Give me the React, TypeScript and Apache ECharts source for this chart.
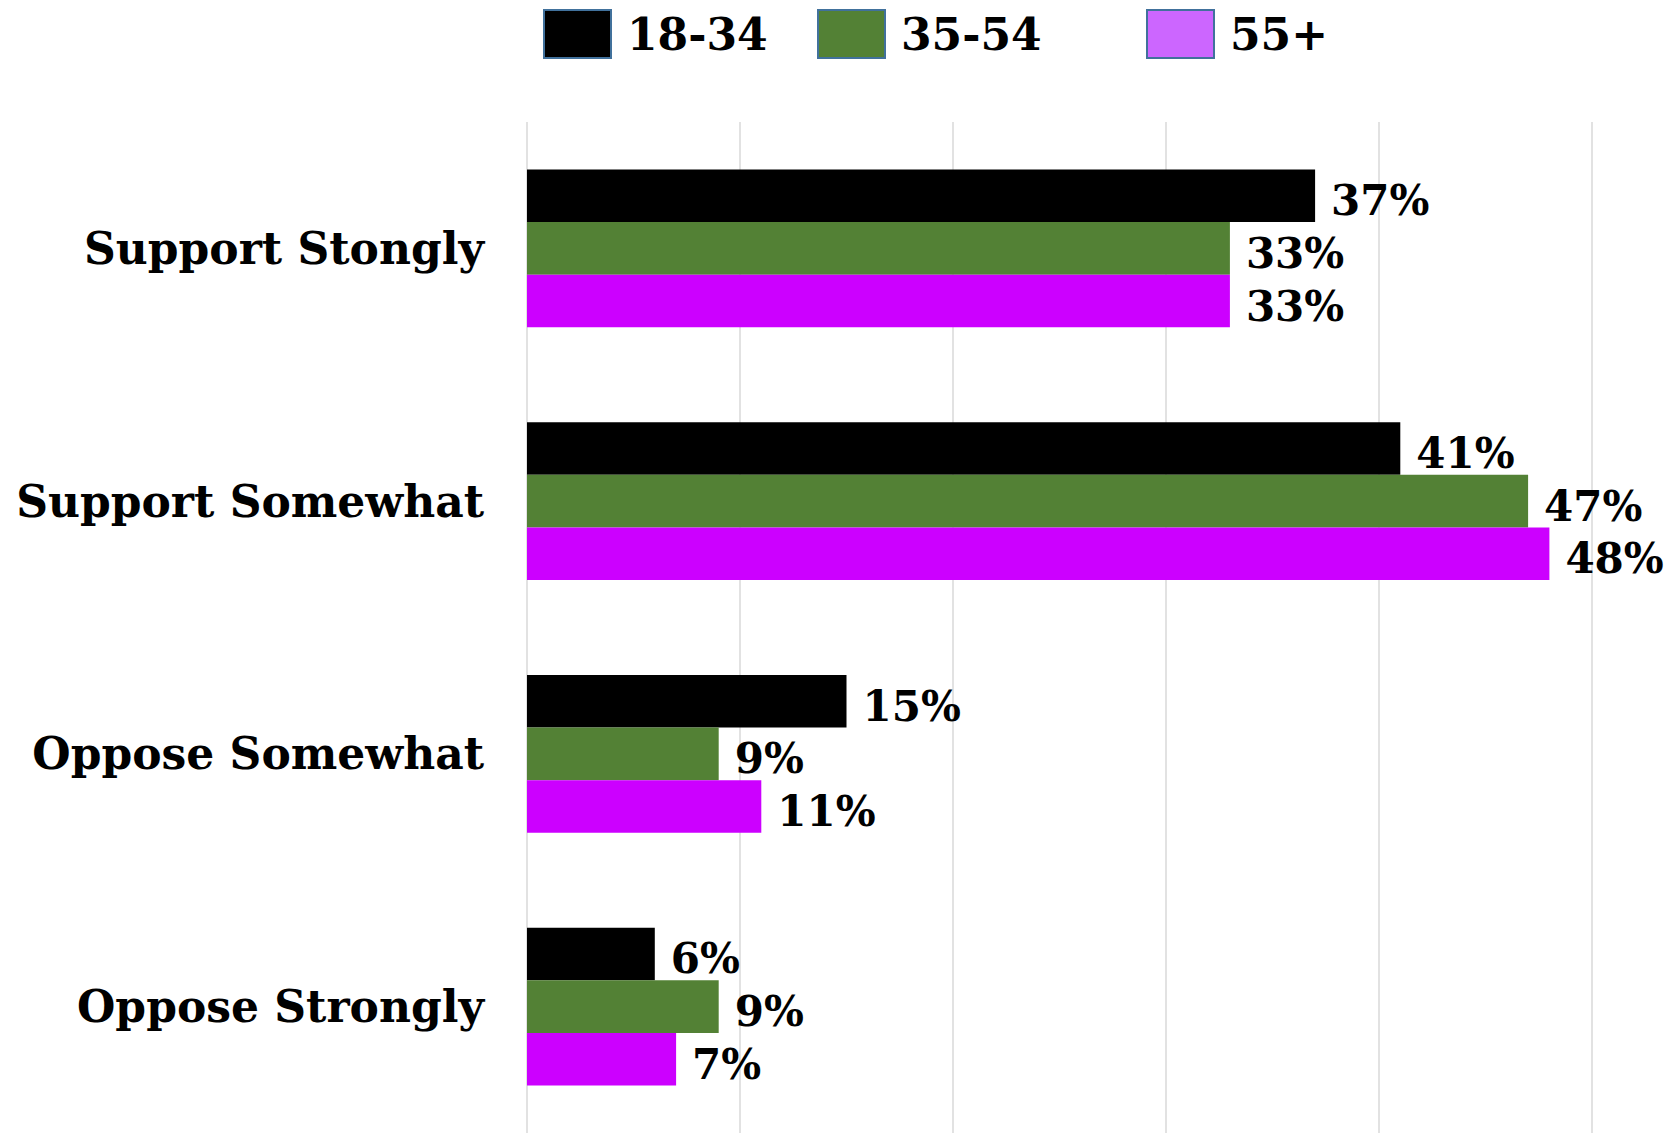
import React, { useEffect, useRef } from "react";
import * as echarts from "echarts";

const categories = ["Support Stongly", "Support Somewhat", "Oppose Somewhat", "Oppose Strongly"];
const seriesNames = ["18-34", "35-54", "55+"];
const values1834 = [37, 41, 15, 6];
const values3554 = [33, 47, 9, 9];
const values55 = [33, 48, 11, 7];
const barColors = ["#000000", "#538135", "#cc00ff"];
const legendColors = ["#000000", "#538135", "#cc66ff"];
const legendLefts = [535, 809, 1138];

const FONT = "'DejaVu Serif', Georgia, serif";

export default function App() {
  const ref = useRef<HTMLDivElement>(null);
  useEffect(() => {
    if (!ref.current) return;
    const chart = echarts.init(ref.current, null, { renderer: "svg" });
    const allValues = [values1834, values3554, values55];
    chart.setOption({
      animation: false,
      backgroundColor: "#ffffff",
      legend: seriesNames.map((n, i) => ({
        data: [{ name: n, itemStyle: { color: legendColors[i], borderColor: "#41719c", borderWidth: 2 } }],
        left: legendLefts[i],
        top: 1,
        padding: 0,
        icon: "rect",
        itemWidth: 67,
        itemHeight: 48,
        itemGap: 16,
        textStyle: {
          fontFamily: FONT,
          fontWeight: "bold",
          fontSize: 44,
          color: "#000",
          padding: [0, 0, 0, 11],
        },
      })),
      grid: { left: 519, width: 1065, top: 114, height: 1011, containLabel: false },
      xAxis: {
        type: "value",
        min: 0,
        max: 50,
        interval: 10,
        axisLabel: { show: false },
        axisLine: { show: false },
        axisTick: { show: false },
        splitLine: { show: true, lineStyle: { color: "#d9d9d9", width: 1.5 } },
      },
      yAxis: {
        type: "category",
        data: categories,
        inverse: true,
        axisLine: { show: false },
        axisTick: { show: false },
        axisLabel: {
          margin: 43,
          fontFamily: FONT,
          fontWeight: "bold",
          fontSize: 44,
          color: "#000",
        },
      },
      series: seriesNames.map((n, i) => ({
        name: n,
        type: "bar",
        data: allValues[i],
        barGap: "0%",
        barCategoryGap: "37.5%",
        itemStyle: { color: barColors[i] },
        label: {
          show: true,
          position: "right",
          distance: 16,
          offset: [0, 5],
          formatter: "{c}%",
          fontFamily: FONT,
          fontWeight: "bold",
          fontSize: 42,
          color: "#000",
        },
      })),
    });
    return () => chart.dispose();
  }, []);
  return <div ref={ref} style={{ width: 1663, height: 1125 }} />;
}
